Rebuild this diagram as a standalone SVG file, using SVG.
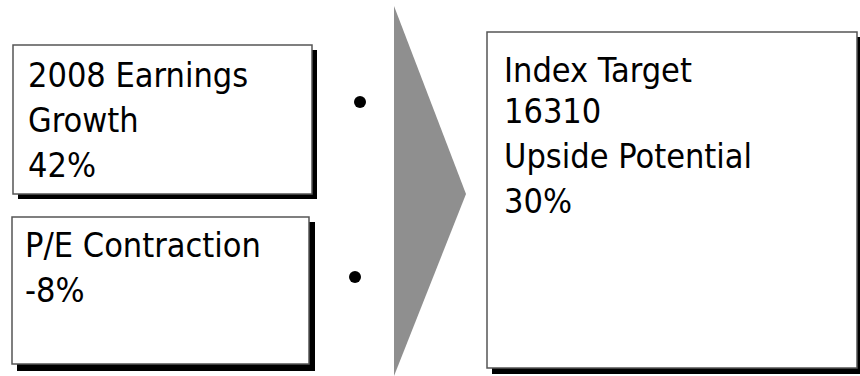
<svg xmlns="http://www.w3.org/2000/svg" width="860" height="376" viewBox="0 0 860 376">
  <defs>
    <style>
      .shadow { fill: #000; }
      .box { fill: #fff; stroke: #555; stroke-width: 1.5; }
      .label { font-family: "DejaVu Sans Condensed", "DejaVu Sans", Verdana, sans-serif; font-stretch: condensed; font-size: 34px; fill: #000; }
      .bullet { fill: #000; }
    </style>
  </defs>
  <rect width="860" height="376" fill="#fff"/>

  <!-- flow chevron -->
  <g id="chevron">
    <polygon points="394,6 466,194 394,376" fill="#8f8f8f"/>
  </g>

  <g id="connectors">
    <circle class="bullet" cx="360" cy="102" r="6"/>
    <circle class="bullet" cx="355" cy="277" r="6"/>
  </g>

  <g id="earnings-growth">
    <rect class="shadow" x="18" y="50" width="299" height="149"/>
    <rect class="box" x="13" y="45" width="299" height="149"/>
    <text class="label" x="28" y="87">2008 Earnings</text>
    <text class="label" x="28" y="132">Growth</text>
    <text class="label" x="28" y="177">42%</text>
  </g>

  <g id="pe-contraction">
    <rect class="shadow" x="17" y="222" width="298" height="149"/>
    <rect class="box" x="12" y="217" width="297" height="147"/>
    <text class="label" x="25" y="257">P/E Contraction</text>
    <text class="label" x="25" y="302">-8%</text>
  </g>

  <g id="index-target">
    <rect class="shadow" x="492" y="37" width="370" height="337"/>
    <rect class="box" x="487" y="32" width="370" height="336"/>
    <text class="label" x="504" y="82">Index Target</text>
    <text class="label" x="504" y="123">16310</text>
    <text class="label" x="504" y="168">Upside Potential</text>
    <text class="label" x="504" y="213">30%</text>
  </g>
</svg>
